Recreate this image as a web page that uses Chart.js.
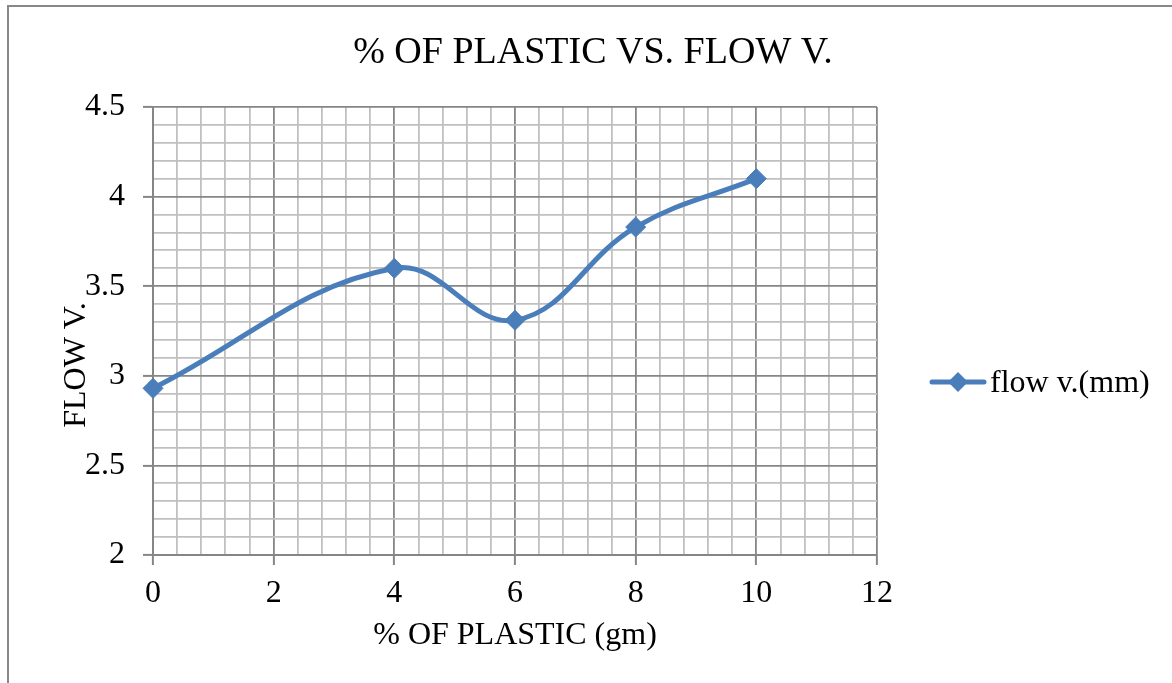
<!DOCTYPE html>
<html lang="en">
<head>
  <meta charset="UTF-8" />
  <title>% of plastic vs. flow v.</title>
  <script src="https://cdn.jsdelivr.net/npm/chart.js"></script>
  <style>
    html, body { margin: 0; padding: 0; background: #fff; }
    #wrap { width: 1172px; height: 683px; }
  </style>
</head>
<body>
  <div id="wrap"><canvas id="flowChart" width="1172" height="683"></canvas></div>

  <script>
    // data
    const plasticPct = [0, 4, 6, 8, 10];
    const flowValues = [2.93, 3.60, 3.31, 3.83, 4.10];
    const xMajorTicks = [0, 2, 4, 6, 8, 10, 12];
    const yMajorTicks = [2, 2.5, 3, 3.5, 4, 4.5];
    const minorPerMajor = 5;

    const seriesName = "flow v.(mm)";
    const chartTitle = "% OF PLASTIC VS. FLOW V.";
    const xTitle = "% OF PLASTIC (gm)";
    const yTitle = "FLOW V.";

    const blue = "#4a7ebb";
    const majorGrid = "#868686";
    const minorGrid = "#c0c0c0";
    const serif = "'Liberation Serif', 'Times New Roman', serif";

    // major ticks plus the minor lines in between
    function withMinors(majors) {
      const out = [];
      for (let i = 0; i < majors.length; i++) {
        out.push({ value: majors[i], isMajor: true });
        if (i < majors.length - 1) {
          const step = (majors[i + 1] - majors[i]) / minorPerMajor;
          for (let k = 1; k < minorPerMajor; k++) {
            out.push({ value: +(majors[i] + k * step).toFixed(4), isMajor: false });
          }
        }
      }
      return out;
    }

    const isMajor = c => c.tick && c.tick.isMajor;

    const gridOpts = {
      color: c => isMajor(c) ? majorGrid : minorGrid,
      lineWidth: 1.8,
      tickLength: 10,
      tickColor: c => isMajor(c) ? majorGrid : "rgba(0,0,0,0)",
      tickWidth: 2
    };

    // title, y title, legend and the outer frame
    const decor = {
      id: "decor",
      beforeDraw(chart) {
        const ctx = chart.ctx;
        ctx.save();
        ctx.fillStyle = "#fff";
        ctx.fillRect(0, 0, chart.width, chart.height);
        ctx.strokeStyle = "#888";
        ctx.lineWidth = 2;
        ctx.strokeRect(8, 6, chart.width + 20, chart.height + 20);
        ctx.restore();
      },
      afterDraw(chart) {
        const ctx = chart.ctx;
        ctx.save();
        ctx.fillStyle = "#000";
        ctx.textAlign = "center";
        ctx.textBaseline = "alphabetic";
        ctx.font = "38px " + serif;
        ctx.fillText(chartTitle, 593, 63);

        ctx.font = "32px " + serif;
        ctx.save();
        ctx.translate(85, 365);
        ctx.rotate(-Math.PI / 2);
        ctx.fillText(yTitle, 0, 0);
        ctx.restore();

        // legend entry
        ctx.strokeStyle = blue;
        ctx.lineWidth = 5;
        ctx.lineCap = "round";
        ctx.beginPath();
        ctx.moveTo(932, 382);
        ctx.lineTo(984, 382);
        ctx.stroke();
        ctx.fillStyle = blue;
        ctx.beginPath();
        ctx.moveTo(958, 372);
        ctx.lineTo(968, 382);
        ctx.lineTo(958, 392);
        ctx.lineTo(948, 382);
        ctx.closePath();
        ctx.fill();
        ctx.fillStyle = "#000";
        ctx.textAlign = "left";
        ctx.fillText(seriesName, 990, 392);
        ctx.restore();
      }
    };

    new Chart(document.getElementById("flowChart"), {
      type: "line",
      data: {
        datasets: [{
          label: seriesName,
          data: plasticPct.map((x, i) => ({ x, y: flowValues[i] })),
          borderColor: blue,
          backgroundColor: blue,
          borderWidth: 5,
          tension: 0.4,
          pointStyle: "rectRot",
          pointRadius: 10,
          pointBorderWidth: 1,
          pointBorderColor: blue,
          pointBackgroundColor: blue,
          fill: false,
          clip: false
        }]
      },
      options: {
        responsive: false,
        animation: false,
        devicePixelRatio: 1,
        layout: { padding: { left: 0, top: 107, right: 295, bottom: 0 } },
        plugins: {
          legend: { display: false },
          title: { display: false },
          tooltip: { enabled: false }
        },
        scales: {
          x: {
            type: "linear",
            min: 0,
            max: 12,
            afterBuildTicks: s => { s.ticks = withMinors(xMajorTicks); },
            afterFit: s => { s.height = 128; },
            grid: gridOpts,
            border: { color: majorGrid, width: 2 },
            ticks: {
              autoSkip: false,
              maxRotation: 0,
              minRotation: 0,
              padding: 9,
              color: "#000",
              font: { family: serif, size: 32, lineHeight: 1.2 },
              callback: (v, i, ticks) => ticks[i].isMajor ? String(v) : ""
            },
            title: {
              display: true,
              text: xTitle,
              color: "#000",
              font: { family: serif, size: 32, lineHeight: 1.2 },
              padding: { top: 0, bottom: 28 }
            }
          },
          y: {
            min: 2,
            max: 4.5,
            afterBuildTicks: s => { s.ticks = withMinors(yMajorTicks); },
            afterFit: s => { s.width = 153; },
            grid: gridOpts,
            border: { color: majorGrid, width: 2 },
            ticks: {
              autoSkip: false,
              padding: 18,
              color: "#000",
              font: { family: serif, size: 32, lineHeight: 1.2 },
              callback: (v, i, ticks) => ticks[i].isMajor ? String(v) : ""
            }
          }
        }
      },
      plugins: [decor]
    });
  </script>
</body>
</html>
